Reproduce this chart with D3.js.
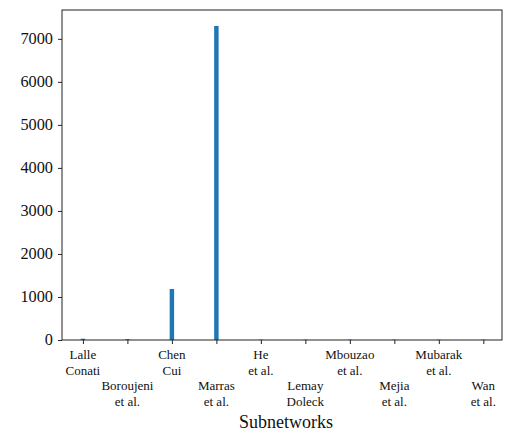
<!DOCTYPE html>
<html>
<head>
  <meta charset="utf-8">
  <title>Subnetworks</title>
  <script src="https://d3js.org/d3.v7.min.js"></script>
</head>
<body style="margin:0">
  <svg width="510" height="435"></svg>
  <script>
// categories (two-line labels) and bar heights
const names = [
  ["Lalle", "Conati"], ["Boroujeni", "et al."], ["Chen", "Cui"], ["Marras", "et al."],
  ["He", "et al."], ["Lemay", "Doleck"], ["Mbouzao", "et al."], ["Mejia", "et al."],
  ["Mubarak", "et al."], ["Wan", "et al."]
];
const counts = [30, 20, 1185, 7300, 8, 8, 8, 8, 8, 8];
const yTicks = [0, 1000, 2000, 3000, 4000, 5000, 6000, 7000];

const serif = 'Liberation Serif';
const margin = { top: 10, right: 8, bottom: 95, left: 62 };
const W = 510, H = 435;
const width = W - margin.left - margin.right;
const height = H - margin.top - margin.bottom;

const svg = d3.select('svg');
const g = svg.append('g')
  .attr('transform', `translate(${margin.left},${margin.top})`);

const x = d3.scaleLinear().domain([-0.47, counts.length - 1 + 0.42]).range([0, width]);
const y = d3.scaleLinear().domain([0, 7670]).range([height, 0]);
const barW = x(0.1) - x(0);

// bars
g.selectAll('rect.bar')
  .data(counts)
  .join('rect')
  .attr('class', 'bar')
  .attr('x', (d, i) => x(i) - barW / 2)
  .attr('y', d => y(d))
  .attr('width', barW)
  .attr('height', d => y(0) - y(d))
  .attr('fill', '#1f77b4');

// y ticks (lines from the axis, labels drawn as plain text)
const yAxis = g.append('g')
  .call(d3.axisLeft(y).tickValues(yTicks).tickSize(4).tickFormat(''));
yAxis.select('.domain').remove();
yAxis.selectAll('line').attr('stroke', '#222');

g.append('g').selectAll('text')
  .data(yTicks)
  .join('text')
  .attr('x', -9)
  .attr('y', d => y(d))
  .attr('dy', '0.33em')
  .attr('text-anchor', 'end')
  .attr('font-family', serif)
  .attr('font-size', 16.3)
  .attr('fill', '#111')
  .text(d => d);

// x ticks
const xAxis = g.append('g')
  .attr('transform', `translate(0,${height})`)
  .call(d3.axisBottom(x).tickValues(d3.range(counts.length)).tickSize(4).tickFormat(''));
xAxis.select('.domain').remove();
xAxis.selectAll('line').attr('stroke', '#222');

const xl = g.append('g').attr('transform', `translate(0,${height})`);
names.forEach((lines, i) => {
  const off = i % 2 === 1 ? 2 : 0;
  lines.forEach((s, k) => {
    xl.append('text')
      .attr('x', x(i))
      .attr('y', 19 + (k + off) * 15.5)
      .attr('text-anchor', 'middle')
      .attr('font-family', serif)
      .attr('font-size', 13)
      .attr('fill', '#111')
      .text(s);
  });
});

// frame
g.append('rect')
  .attr('width', width)
  .attr('height', height)
  .attr('fill', 'none')
  .attr('stroke', '#222')
  .attr('stroke-width', 1);

// x label
svg.append('text')
  .attr('x', margin.left + width / 2 + 4)
  .attr('y', 428)
  .attr('text-anchor', 'middle')
  .attr('font-family', serif)
  .attr('font-size', 18)
  .attr('fill', '#111')
  .text('Subnetworks');
  </script>
</body>
</html>
